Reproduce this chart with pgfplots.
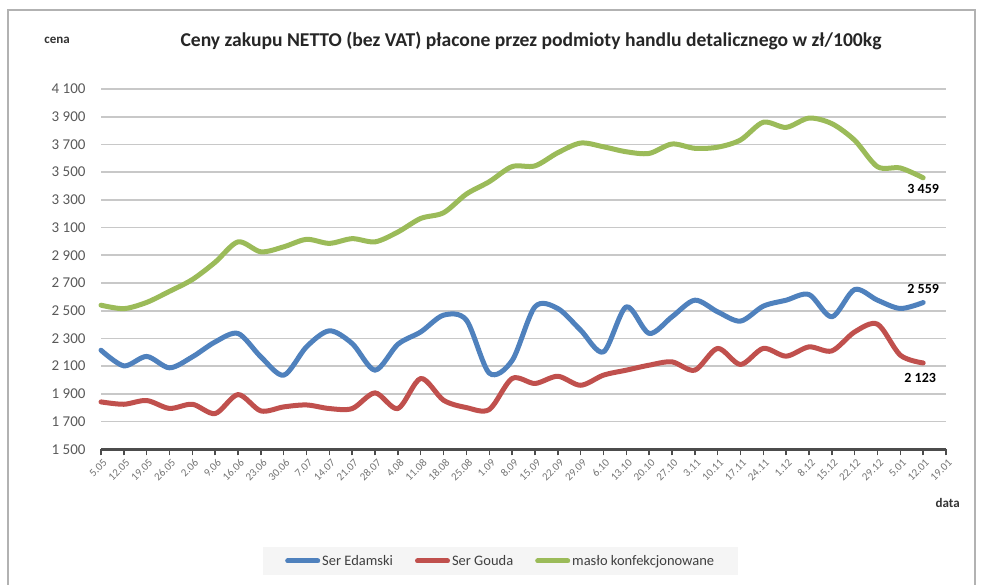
\documentclass[border=0pt]{standalone}
\usepackage{fontspec}
\setmainfont{Carlito}
\usepackage{pgfplots}
\usepackage{pgfplotstable}
\pgfplotsset{compat=1.18}

\definecolor{cEdam}{HTML}{4F81BD}
\definecolor{cGouda}{HTML}{C0504D}
\definecolor{cMaslo}{HTML}{9BBB59}
\definecolor{cTxt}{HTML}{595959}
\definecolor{cGrid}{HTML}{C8C8C8}

\pgfplotstableread{
idx edam gouda maslo
0 2215 1842 2540
1 2102 1825 2515
2 2170 1852 2560
3 2088 1795 2640
4 2167 1825 2725
5 2275 1758 2850
6 2336 1895 2997
7 2167 1777 2925
8 2035 1806 2961
9 2240 1820 3015
10 2355 1794 2986
11 2263 1794 3020
12 2071 1907 2997
13 2258 1794 3068
14 2347 2011 3166
15 2468 1854 3207
16 2432 1801 3342
17 2050 1787 3431
18 2140 2011 3540
19 2528 1975 3545
20 2516 2027 3640
21 2360 1962 3710
22 2203 2035 3683
23 2528 2071 3647
24 2336 2107 3635
25 2456 2131 3703
26 2576 2071 3672
27 2492 2228 3680
28 2425 2112 3732
29 2533 2228 3860
30 2576 2172 3823
31 2617 2239 3890
32 2456 2210 3850
33 2653 2347 3730
34 2576 2403 3539
35 2516 2179 3530
36 2559 2123 3459
}\prices

\begin{document}
\begin{tikzpicture}
\useasboundingbox (0,0) rectangle (981pt,585pt);
\draw[black!30, line width=1.5pt] (8pt,0) -- (8pt,575pt) -- (975pt,575pt) -- (975pt,0);
\begin{axis}[
  at={(101pt,135.7pt)}, anchor=south west,
  scale only axis, width=845pt, height=360.3pt,
  xmin=0, xmax=37, ymin=1500, ymax=4100,
  axis x line*=bottom, axis y line*=left,
  y axis line style={draw=none},
  x axis line style={draw=black!70, line width=2.5pt},
  xtick={0,...,37},
  xticklabels={5.05,12.05,19.05,26.05,2.06,9.06,16.06,23.06,30.06,7.07,14.07,21.07,28.07,4.08,11.08,18.08,25.08,1.09,8.09,15.09,22.09,29.09,6.10,13.10,20.10,27.10,3.11,10.11,17.11,24.11,1.12,8.12,15.12,22.12,29.12,5.01,12.01,19.01},
  x tick style={draw=black!70, line width=1.5pt},
  tick align=outside, major tick length=6pt,
  x tick label style={rotate=45, anchor=north east, font=\fontsize{11}{12}\selectfont, text=black!55, inner sep=1pt, yshift=-2pt},
  ytick={1500,1700,...,4100},
  y tick style={draw=none},
  y tick label style={font=\fontsize{15}{18}\selectfont, text=cTxt, xshift=-6pt},
  /pgf/number format/assume math mode=true,
  /pgf/number format/1000 sep={\ },
  ymajorgrids, grid style={cGrid, line width=1.6pt},
  title={\bfseries Ceny zakupu NETTO (bez VAT) płacone przez podmioty handlu detalicznego w zł/100kg},
  title style={at={(0.5,1)}, anchor=center, yshift=42pt, xshift=7.5pt, font=\fontsize{19.6}{22}\selectfont, text=black!85},
  ylabel={cena},
  ylabel style={at={(-0.052,1.136)}, anchor=center, rotate=-90, font=\bfseries\fontsize{13}{15}\selectfont, text=black!80},
  xlabel={data},
  xlabel style={at={(1.002,-0.149)}, anchor=center, font=\bfseries\fontsize{13}{15}\selectfont, text=black!80},
  legend columns=3,
  legend style={at={(0.473,-0.31)}, anchor=center, fill=black!4, draw=none,
    font=\fontsize{14.5}{16}\selectfont, text=black!75, inner xsep=22pt, inner ysep=6pt,
    /tikz/every even column/.append style={column sep=20pt}},
  legend cell align=left,
  legend image code/.code={\draw[#1, line width=5pt, line cap=round] (0pt,0pt) -- (30pt,0pt);},
  every axis plot/.append style={line width=5pt, smooth, tension=0.5, line cap=round, line join=round, no markers},
  clip=false,
]
\addplot[cEdam] table[x=idx, y=edam] {\prices};
\addlegendentry{Ser Edamski}
\addplot[cGouda] table[x=idx, y=gouda] {\prices};
\addlegendentry{Ser Gouda}
\addplot[cMaslo] table[x=idx, y=maslo] {\prices};
\addlegendentry{masło konfekcjonowane}
\node[font=\bfseries\fontsize{14}{16}\selectfont, anchor=south, yshift=5pt] at (axis cs:36,2559) {2 559};
\node[font=\bfseries\fontsize{14}{16}\selectfont, anchor=north, yshift=-7pt, xshift=-3pt] at (axis cs:36,2123) {2 123};
\node[font=\bfseries\fontsize{14}{16}\selectfont, anchor=north, yshift=-3pt] at (axis cs:36,3459) {3 459};
\end{axis}
\end{tikzpicture}
\end{document}
